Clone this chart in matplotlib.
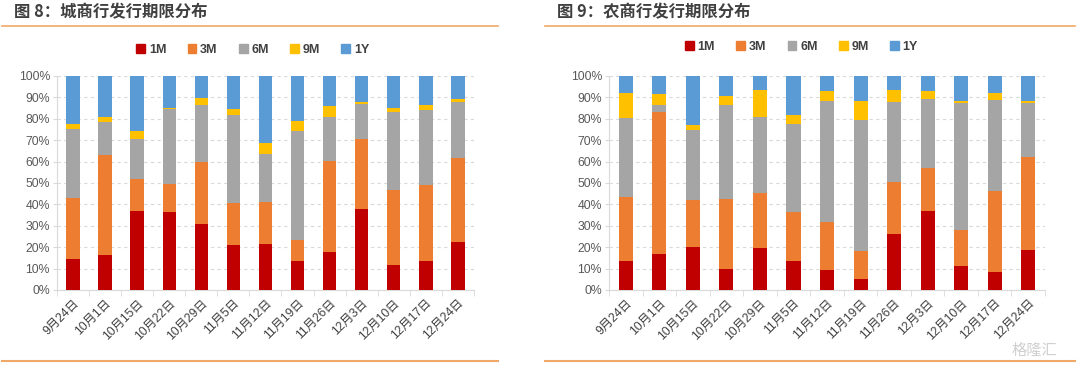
import matplotlib
matplotlib.use("Agg")
import matplotlib.pyplot as plt
import numpy as np
from matplotlib.lines import Line2D
from matplotlib.patches import Patch

plt.rcParams['font.family'] = ['Liberation Sans', 'Noto Sans CJK SC', 'DejaVu Sans']

dates = ["9月24日", "10月1日", "10月15日", "10月22日", "10月29日", "11月5日", "11月12日",
         "11月19日", "11月26日", "12月3日", "12月10日", "12月17日", "12月24日"]
terms = ["1M", "3M", "6M", "9M", "1Y"]

# city commercial banks (%), one list per term
city_1m = [14.3, 16.2, 36.9, 36.3, 30.7, 21.0, 21.3, 13.7, 17.6, 37.7, 11.8, 13.6, 22.3]
city_3m = [28.8, 46.9, 15.1, 13.2, 29.3, 19.8, 20.0, 9.5, 42.7, 33.0, 34.9, 35.5, 39.2]
city_6m = [32.1, 15.6, 18.7, 34.9, 26.4, 41.0, 22.4, 51.1, 20.5, 16.2, 36.3, 34.9, 26.4]
city_9m = [2.2, 2.1, 3.4, 0.8, 3.5, 2.6, 4.8, 4.7, 5.0, 1.0, 2.2, 2.6, 1.2]
city_1y = [22.6, 19.2, 25.9, 14.8, 10.1, 15.6, 31.5, 21.0, 14.2, 12.1, 14.8, 13.4, 10.9]

# rural commercial banks (%)
rural_1m = [13.4, 16.8, 19.9, 9.8, 19.6, 13.6, 9.2, 5.1, 26.0, 36.8, 11.4, 8.3, 18.5]
rural_3m = [29.9, 66.5, 22.2, 32.6, 25.9, 22.7, 22.7, 13.3, 24.5, 20.2, 16.8, 37.8, 43.5]
rural_6m = [37.1, 3.3, 32.8, 44.2, 35.3, 41.4, 56.3, 60.9, 37.4, 32.3, 59.0, 42.7, 25.2]
rural_9m = [11.7, 5.1, 2.2, 3.9, 12.5, 3.9, 4.6, 9.2, 5.6, 3.5, 1.0, 3.1, 1.0]
rural_1y = [7.9, 8.3, 22.9, 9.5, 6.7, 18.4, 7.2, 11.5, 6.5, 7.2, 11.8, 8.1, 11.8]

colors = ['#C00000', '#ED7D31', '#A5A5A5', '#FFC000', '#5B9BD5']
txt = '#404040'
grid_c = '#D9D9D9'


def draw_stack(ax, series):
    x = np.arange(len(dates))
    bottom = np.zeros(len(dates))
    for vals, c in zip(series, colors):
        ax.bar(x, vals, 0.42, bottom=bottom, color=c, linewidth=0, zorder=3)
        bottom += np.array(vals)
    ax.set_xlim(-0.5, len(dates) - 0.5)
    ax.set_ylim(0, 100)
    ax.set_yticks(range(0, 101, 10))
    ax.set_yticklabels([f"{v}%" for v in range(0, 101, 10)], fontsize=8.8, color='#595959')
    ax.set_xticks(x)
    ax.set_xticklabels(dates, rotation=45, ha='right', rotation_mode='anchor',
                       fontsize=8.8, color='#404040')
    ax.set_xticks(np.arange(-0.5, len(dates)), minor=True)
    ax.tick_params(axis='x', which='major', length=0, pad=5)
    ax.tick_params(axis='x', which='minor', length=4, color=grid_c)
    ax.tick_params(axis='y', length=3, color=grid_c, pad=2)
    ax.yaxis.grid(True, linestyle=(0, (3, 3)), color=grid_c, linewidth=0.8, zorder=0)
    for s in ['top', 'right']:
        ax.spines[s].set_visible(False)
    for s in ['left', 'bottom']:
        ax.spines[s].set_color(grid_c)


fig = plt.figure(figsize=(10.8, 3.68), dpi=100)

ax1 = fig.add_axes([0.0528, 0.212, 0.386, 0.5815])
draw_stack(ax1, [city_1m, city_3m, city_6m, city_9m, city_1y])
ax2 = fig.add_axes([0.5639, 0.212, 0.4037, 0.5815])
draw_stack(ax2, [rural_1m, rural_3m, rural_6m, rural_9m, rural_1y])

handles = [Patch(color=c, label=t) for c, t in zip(colors, terms)]
for cx, cy in [(0.234, 0.864), (0.742, 0.872)]:
    leg = fig.legend(handles=handles, loc='center', bbox_to_anchor=(cx, cy), ncol=5,
                     frameon=False, handlelength=0.7, handleheight=0.7, handletextpad=0.3,
                     columnspacing=1.7, prop={'weight': 'bold', 'size': 9})
    for t in leg.get_texts():
        t.set_color(txt)

fig.text(0.013, 0.966, "图 8：城商行发行期限分布", fontsize=11.8, fontweight='bold',
         color=txt, va='center', family=['Noto Sans CJK SC', 'DejaVu Sans'])
fig.text(0.516, 0.966, "图 9：农商行发行期限分布", fontsize=11.8, fontweight='bold',
         color=txt, va='center', family=['Noto Sans CJK SC', 'DejaVu Sans'])

line_c = '#F0A868'
for x0, x1 in [(0.002, 0.461), (0.505, 0.995)]:
    fig.add_artist(Line2D([x0, x1], [1 - 26 / 368, 1 - 26 / 368], color=line_c, linewidth=1.2))
    fig.add_artist(Line2D([x0, x1], [1 - 361 / 368, 1 - 361 / 368], color=line_c, linewidth=1.5))

fig.text(0.958, 0.048, "格隆汇", fontsize=11, color='#CFCFCF', va='center', ha='center',
         family=['Noto Sans CJK SC', 'DejaVu Sans'])

fig.savefig("out.png", dpi=100)
